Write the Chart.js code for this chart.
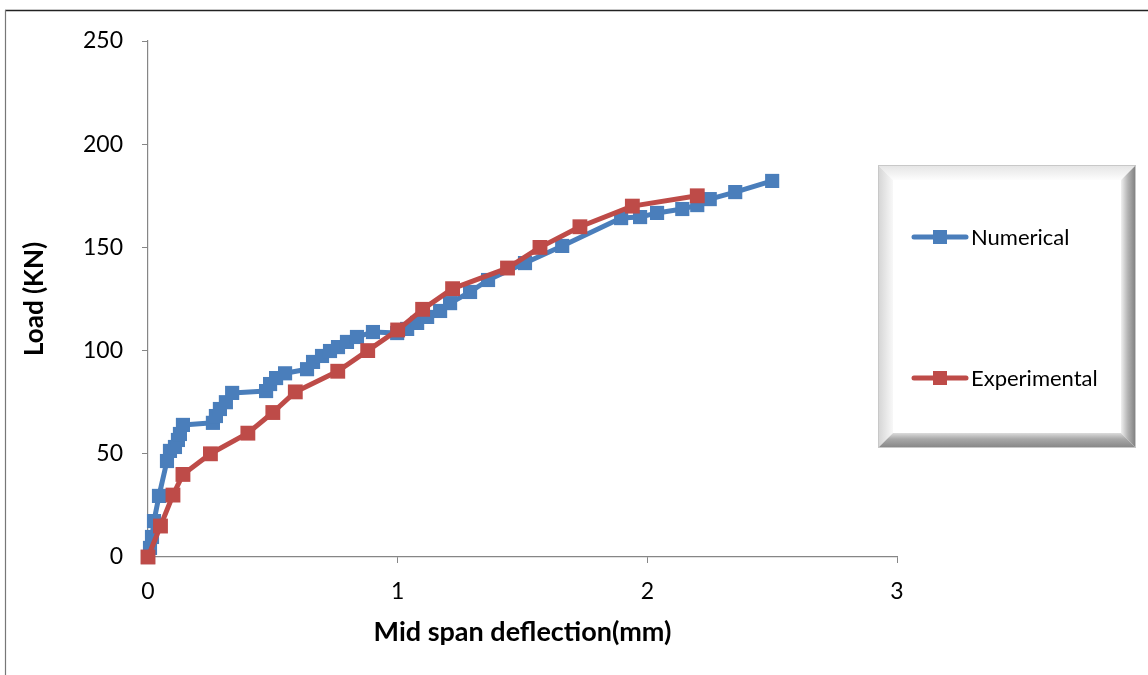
<!DOCTYPE html>
<html>
<head>
<meta charset="utf-8">
<title>Load - deflection</title>
<script src="https://cdn.jsdelivr.net/npm/chart.js@4/dist/chart.umd.min.js"></script>
<style>
  html, body { margin: 0; padding: 0; background: #fff; }
  #wrap { width: 1148px; height: 675px; position: relative; }
</style>
</head>
<body>
<div id="wrap"><canvas id="deflectionChart" width="1148" height="675"></canvas></div>
<script>
/* ===============================
   DATA
================================ */

// numerical model: mid span deflection (mm) / load (kN)
const numDeflection = [
  0, 0.008, 0.016, 0.024, 0.044, 0.076, 0.088, 0.108, 0.12, 0.128, 0.14,
  0.26, 0.272, 0.288, 0.312, 0.337, 0.473, 0.489, 0.513, 0.549, 0.637,
  0.661, 0.697, 0.729, 0.761, 0.797, 0.837, 0.901, 0.998, 1.038, 1.078,
  1.118, 1.17, 1.21, 1.29, 1.362, 1.51, 1.659, 1.895, 1.971, 2.039,
  2.14, 2.2, 2.25, 2.352, 2.5
];
const numLoad = [
  0, 4.4, 9.7, 17.4, 29.6, 46.5, 51.4, 53.3, 56.7, 59.6, 64,
  65, 68.3, 71.7, 75, 79.5, 80.4, 83.8, 86.7, 89, 91,
  94.5, 97.4, 99.8, 101.7, 104.2, 106.6, 109, 108.5, 110.5, 113.4,
  116.3, 119.2, 123, 128.4, 134.2, 142.4, 150.7, 164.2, 164.7, 166.7,
  168.6, 170.5, 173.4, 176.8, 182.2
];

// test results
const expDeflection = [0, 0.05, 0.1, 0.14, 0.25, 0.4, 0.5, 0.59, 0.76, 0.88, 1.0, 1.1, 1.22, 1.44, 1.57, 1.73, 1.94, 2.2];
const expLoad = [0, 15, 30, 40, 50, 60, 70, 80, 90, 100, 110, 120, 130, 140, 150, 160, 170, 175];

const seriesNames = ["Numerical", "Experimental"];
const seriesColors = ["#4a7ebb", "#be4b48"];

const xTicks = [0, 1, 2, 3];
const yTicks = [0, 50, 100, 150, 200, 250];

const toPoints = (xs, ys) => xs.map((x, i) => ({ x: x, y: ys[i] }));

const FONT = "Lato, 'Open Sans', sans-serif";
const AXIS = "#868686";

/* ===============================
   BORDER + 3D LEGEND BOX
================================ */

const frame = {
  id: "frame",
  beforeDraw(chart) {
    const ctx = chart.ctx;
    ctx.save();
    ctx.fillStyle = "#fff";
    ctx.fillRect(0, 0, chart.width, chart.height);
    ctx.strokeStyle = "#222";
    ctx.lineWidth = 1.5;
    ctx.beginPath();
    ctx.moveTo(5, 10.5);
    ctx.lineTo(chart.width, 10.5);
    ctx.stroke();
    ctx.strokeStyle = "#777";
    ctx.lineWidth = 1.2;
    ctx.beginPath();
    ctx.moveTo(5.5, 10);
    ctx.lineTo(5.5, chart.height);
    ctx.stroke();
    ctx.restore();
  },
};

const bevelLegend = {
  id: "bevelLegend",
  afterDraw(chart) {
    const ctx = chart.ctx;
    const x0 = 878, y0 = 165, x1 = 1136, y1 = 448, b = 15;
    ctx.save();

    const side = (pts, g) => {
      ctx.beginPath();
      ctx.moveTo(pts[0][0], pts[0][1]);
      for (let i = 1; i < pts.length; i++) ctx.lineTo(pts[i][0], pts[i][1]);
      ctx.closePath();
      ctx.fillStyle = g;
      ctx.fill();
    };

    // face
    ctx.fillStyle = "#fff";
    ctx.fillRect(x0, y0, x1 - x0, y1 - y0);

    let g = ctx.createLinearGradient(0, y0, 0, y0 + b);
    g.addColorStop(0, "#e4e4e4");
    g.addColorStop(1, "#fdfdfd");
    side([[x0, y0], [x1, y0], [x1 - b, y0 + b], [x0 + b, y0 + b]], g);

    g = ctx.createLinearGradient(x0, 0, x0 + b, 0);
    g.addColorStop(0, "#d4d4d4");
    g.addColorStop(1, "#f8f8f8");
    side([[x0, y0], [x0 + b, y0 + b], [x0 + b, y1 - b], [x0, y1]], g);

    g = ctx.createLinearGradient(x1 - b, 0, x1, 0);
    g.addColorStop(0, "#f0f0f0");
    g.addColorStop(0.45, "#b4b4b4");
    g.addColorStop(1, "#7c7c7c");
    side([[x1, y0], [x1, y1], [x1 - b, y1 - b], [x1 - b, y0 + b]], g);

    g = ctx.createLinearGradient(0, y1 - b, 0, y1);
    g.addColorStop(0, "#dcdcdc");
    g.addColorStop(0.4, "#a8a8a8");
    g.addColorStop(1, "#858585");
    side([[x0, y1], [x0 + b, y1 - b], [x1 - b, y1 - b], [x1, y1]], g);

    ctx.strokeStyle = "#c8c8c8";
    ctx.lineWidth = 1;
    ctx.strokeRect(x0 + 0.5, y0 + 0.5, x1 - x0 - 1, y1 - y0 - 1);

    // entries
    const rows = [237, 378];
    seriesNames.forEach((name, i) => {
      const y = rows[i];
      ctx.strokeStyle = seriesColors[i];
      ctx.lineWidth = 5;
      ctx.lineCap = "round";
      ctx.beginPath();
      ctx.moveTo(914, y);
      ctx.lineTo(966, y);
      ctx.stroke();
      ctx.fillStyle = seriesColors[i];
      ctx.fillRect(933, y - 7, 14, 14);
      ctx.fillStyle = "#000";
      ctx.font = "22px " + FONT;
      ctx.textBaseline = "middle";
      ctx.textAlign = "left";
      ctx.fillText(name, 971, y + 1);
    });
    ctx.restore();
  },
};

/* ===============================
   LOAD vs DEFLECTION CHART
================================ */

const canvas = document.getElementById("deflectionChart");

new Chart(canvas, {
  type: "scatter",
  data: {
    datasets: [
      {
        label: seriesNames[0],
        data: toPoints(numDeflection, numLoad),
        showLine: true,
        clip: false,
        borderColor: seriesColors[0],
        backgroundColor: seriesColors[0],
        borderWidth: 5,
        borderJoinStyle: "round",
        pointStyle: "rect",
        pointRadius: 10,
        pointBorderWidth: 0,
        order: 2,
      },
      {
        label: seriesNames[1],
        data: toPoints(expDeflection, expLoad),
        showLine: true,
        clip: false,
        borderColor: seriesColors[1],
        backgroundColor: seriesColors[1],
        borderWidth: 5,
        borderJoinStyle: "round",
        pointStyle: "rect",
        pointRadius: 10.5,
        pointBorderWidth: 0,
        order: 1,
      },
    ],
  },
  options: {
    responsive: false,
    animation: false,
    layout: { padding: { left: 0, top: 41, right: 251, bottom: 0 } },
    plugins: {
      legend: { display: false },
      tooltip: { enabled: false },
    },
    scales: {
      x: {
        type: "linear",
        min: xTicks[0],
        max: xTicks[xTicks.length - 1],
        afterBuildTicks: (s) => { s.ticks = xTicks.map((v) => ({ value: v })); },
        afterFit: (s) => { s.height = 118; },
        ticks: { color: "#000", font: { family: FONT, size: 23 }, padding: 15 },
        grid: { drawOnChartArea: false, tickLength: 6, color: AXIS },
        border: { color: AXIS, width: 1.2 },
        title: {
          display: true,
          text: "Mid span deflection(mm)",
          color: "#000",
          font: { family: FONT, size: 27, weight: "bold" },
          padding: { top: 0, bottom: 27 },
        },
      },
      y: {
        type: "linear",
        min: yTicks[0],
        max: yTicks[yTicks.length - 1],
        afterBuildTicks: (s) => { s.ticks = yTicks.map((v) => ({ value: v })); },
        afterFit: (s) => { s.width = 148; },
        ticks: { color: "#000", font: { family: FONT, size: 23 }, padding: 19 },
        grid: { drawOnChartArea: false, tickLength: 6, color: AXIS },
        border: { color: AXIS, width: 1.2 },
        title: {
          display: true,
          text: "Load (KN)",
          color: "#000",
          font: { family: FONT, size: 26, weight: "bold" },
          padding: { top: 19, bottom: 0 },
        },
      },
    },
  },
  plugins: [frame, bevelLegend],
});
</script>
</body>
</html>
